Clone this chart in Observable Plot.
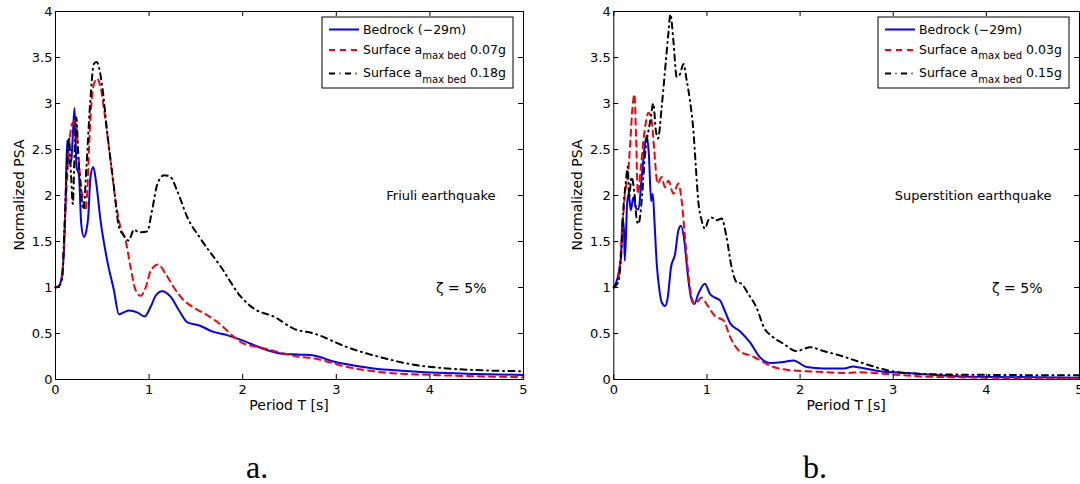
<!DOCTYPE html>
<html><head><meta charset="utf-8">
<script src="https://cdn.jsdelivr.net/npm/d3@7"></script>
<script src="https://cdn.jsdelivr.net/npm/@observablehq/plot@0.6"></script>
<style>
body{margin:0;background:#fff;}
#wrap{position:relative;width:1080px;height:484px;overflow:hidden;background:#fff;}
#wrap svg{position:absolute;top:0;overflow:visible;}
</style></head><body>
<div id="wrap"></div>
<script>
// ---------- axis ticks ----------
const xTicks = [0, 1, 2, 3, 4, 5];
const yTicks = [0, 0.5, 1, 1.5, 2, 2.5, 3, 3.5, 4];

// ---------- (a) Friuli earthquake ----------
const friuliBedT = [0, 0.04, 0.071, 0.089, 0.107, 0.125, 0.146, 0.168, 0.185, 0.203, 0.225, 0.25, 0.275, 0.303, 0.33, 0.349, 0.374, 0.403, 0.432, 0.481, 0.553, 0.624, 0.677, 0.73, 0.784, 0.873, 0.952, 1.016, 1.07, 1.14, 1.23, 1.32, 1.41, 1.53, 1.68, 1.84, 2.01, 2.23, 2.42, 2.62, 2.76, 2.99, 3.2, 3.4, 3.7, 4.01, 4.5, 5.0];
const friuliBed  = [1.0, 1.02, 1.15, 1.37, 1.91, 2.60, 2.35, 2.38, 2.65, 2.95, 2.31, 2.23, 1.69, 1.55, 1.62, 1.76, 2.2, 2.31, 2.16, 1.73, 1.29, 0.97, 0.71, 0.73, 0.75, 0.73, 0.685, 0.79, 0.91, 0.96, 0.90, 0.75, 0.62, 0.59, 0.52, 0.48, 0.42, 0.33, 0.28, 0.27, 0.26, 0.19, 0.15, 0.12, 0.095, 0.075, 0.06, 0.05];

const friuliLowT = [0, 0.04, 0.071, 0.089, 0.107, 0.125, 0.143, 0.178, 0.214, 0.239, 0.267, 0.3, 0.32, 0.34, 0.36, 0.381, 0.41, 0.446, 0.481, 0.535, 0.588, 0.642, 0.695, 0.749, 0.802, 0.856, 0.909, 0.963, 1.016, 1.095, 1.176, 1.265, 1.372, 1.48, 1.62, 1.76, 1.91, 2.01, 2.19, 2.41, 2.59, 2.76, 3.12, 3.48, 4.01, 4.5, 5.0];
const friuliLow  = [1.0, 1.02, 1.12, 1.45, 1.85, 2.2, 2.5, 2.78, 2.81, 2.52, 2.16, 1.92, 1.84, 2.05, 2.55, 2.96, 3.21, 3.27, 3.18, 2.81, 2.38, 1.94, 1.65, 1.51, 1.22, 0.97, 0.91, 1.0, 1.18, 1.25, 1.15, 1.0, 0.86, 0.78, 0.70, 0.60, 0.46, 0.39, 0.35, 0.29, 0.25, 0.23, 0.135, 0.08, 0.05, 0.035, 0.025];

const friuliHighT = [0, 0.04, 0.071, 0.096, 0.118, 0.143, 0.165, 0.185, 0.205, 0.222, 0.245, 0.267, 0.3, 0.33, 0.37, 0.41, 0.44, 0.5, 0.55, 0.62, 0.68, 0.72, 0.78, 0.84, 0.89, 0.98, 1.03, 1.09, 1.16, 1.23, 1.3, 1.41, 1.55, 1.77, 1.98, 2.12, 2.34, 2.55, 2.76, 3.12, 3.48, 3.83, 4.19, 4.55, 5.0];
const friuliHigh  = [1.0, 1.02, 1.1, 1.65, 2.23, 2.63, 2.25, 1.91, 2.5, 2.85, 2.4, 2.1, 1.85, 2.3, 3.0, 3.43, 3.45, 3.18, 2.71, 2.13, 1.65, 1.58, 1.51, 1.63, 1.6, 1.61, 1.83, 2.13, 2.22, 2.2, 2.05, 1.76, 1.53, 1.22, 0.90, 0.77, 0.68, 0.55, 0.50, 0.35, 0.24, 0.16, 0.12, 0.10, 0.09];

// ---------- (b) Superstition earthquake ----------
const supBedT = [0, 0.05, 0.079, 0.093, 0.11, 0.118, 0.143, 0.16, 0.182, 0.21, 0.245, 0.265, 0.3, 0.33, 0.354, 0.378, 0.4, 0.418, 0.436, 0.461, 0.486, 0.514, 0.55, 0.579, 0.614, 0.657, 0.693, 0.722, 0.757, 0.793, 0.829, 0.864, 0.907, 0.979, 1.032, 1.086, 1.14, 1.19, 1.25, 1.36, 1.465, 1.57, 1.68, 1.82, 1.93, 2.07, 2.25, 2.47, 2.57, 2.64, 2.86, 3.14, 3.86, 5.0];
const supBed  = [1.0, 1.15, 1.36, 1.76, 1.6, 1.29, 1.91, 2.02, 1.84, 1.98, 1.85, 1.85, 2.2, 2.52, 2.65, 2.42, 1.94, 2.02, 1.73, 1.26, 1.0, 0.84, 0.80, 0.89, 1.22, 1.36, 1.62, 1.67, 1.51, 1.15, 0.89, 0.82, 0.93, 1.04, 0.93, 0.89, 0.86, 0.75, 0.61, 0.52, 0.40, 0.24, 0.18, 0.19, 0.207, 0.135, 0.12, 0.12, 0.14, 0.13, 0.09, 0.07, 0.03, 0.02];

const supLowT = [0, 0.04, 0.068, 0.093, 0.122, 0.15, 0.175, 0.2, 0.222, 0.24, 0.258, 0.29, 0.318, 0.345, 0.372, 0.407, 0.432, 0.47, 0.514, 0.55, 0.586, 0.64, 0.693, 0.729, 0.764, 0.8, 0.836, 0.872, 0.943, 0.997, 1.086, 1.18, 1.25, 1.36, 1.47, 1.57, 1.68, 1.86, 2.07, 2.29, 2.5, 2.64, 2.86, 3.39, 5.0];
const supLow  = [1.0, 1.05, 1.29, 1.65, 2.05, 2.2, 2.55, 2.95, 3.10, 2.6, 2.02, 2.3, 2.6, 2.8, 2.9, 2.81, 2.52, 2.13, 2.2, 2.09, 2.16, 2.02, 2.13, 1.94, 1.55, 1.15, 0.89, 0.82, 0.89, 0.82, 0.69, 0.64, 0.46, 0.30, 0.26, 0.21, 0.15, 0.105, 0.09, 0.08, 0.07, 0.08, 0.065, 0.03, 0.01];

const supHighT = [0, 0.05, 0.079, 0.104, 0.125, 0.15, 0.165, 0.19, 0.222, 0.247, 0.265, 0.3, 0.336, 0.39, 0.425, 0.45, 0.475, 0.514, 0.55, 0.586, 0.608, 0.64, 0.675, 0.711, 0.747, 0.783, 0.818, 0.854, 0.879, 0.907, 0.943, 0.979, 1.014, 1.05, 1.104, 1.157, 1.21, 1.265, 1.318, 1.372, 1.444, 1.533, 1.61, 1.71, 1.82, 1.96, 2.11, 2.25, 2.43, 2.64, 2.86, 3.14, 3.57, 5.0];
const supHigh  = [1.0, 1.07, 1.36, 1.87, 2.1, 2.31, 1.98, 2.2, 2.02, 1.73, 1.69, 1.95, 2.45, 2.8, 3.0, 2.72, 2.62, 2.96, 3.36, 3.76, 3.97, 3.68, 3.29, 3.32, 3.43, 3.25, 3.03, 2.71, 2.34, 1.94, 1.73, 1.64, 1.73, 1.76, 1.73, 1.75, 1.55, 1.22, 1.06, 1.04, 0.93, 0.78, 0.57, 0.46, 0.39, 0.31, 0.35, 0.31, 0.26, 0.19, 0.12, 0.07, 0.055, 0.045];

// ---------- labels ----------
const seriesNames = ["Bedrock (\u221229m)", "Surface a", "Surface a"];
const seriesSub = ["", "max bed", "max bed"];
const friuliTails = ["", "0.07g", "0.18g"];
const supTails = ["", "0.03g", "0.15g"];
const seriesColors = ["#0000ff", "#ff0000", "#000000"];
const seriesDash = [null, "6,5", "6,4.5,1,4.5"];

const FONT = "DejaVu Sans, Liberation Sans, sans-serif";

function rows(T, v) { return T.map((t, i) => ({T: t, v: v[i]})); }

function makePanel({left, width, marginLeft, marginRight, data, quake, tails, caption, captionX}) {
  const height = 484, marginTop = 11, marginBottom = 105;
  const fw = width - marginLeft - marginRight, fh = height - marginTop - marginBottom;
  const tk = 5;
  const svg = Plot.plot({
    width, height, marginLeft, marginRight, marginTop, marginBottom,
    style: {fontFamily: FONT, fontSize: "13px", color: "black", background: "transparent", overflow: "visible"},
    x: {domain: [0, 5]},
    y: {domain: [0, 4]},
    marks: [
      ...data.map((d, i) => Plot.line(rows(d[0], d[1]), {
        x: "T", y: "v", stroke: seriesColors[i], strokeWidth: 2,
        strokeDasharray: seriesDash[i], curve: "monotone-x", strokeLinejoin: "round"
      })),
      Plot.frame({stroke: "black", strokeWidth: 1}),
      Plot.tickX(xTicks, {x: d => d, insetTop: fh - tk, stroke: "black"}),
      Plot.tickX(xTicks, {x: d => d, insetBottom: fh - tk, stroke: "black"}),
      Plot.tickY(yTicks, {y: d => d, insetRight: fw - tk, stroke: "black"}),
      Plot.tickY(yTicks, {y: d => d, insetLeft: fw - tk, stroke: "black"}),
      Plot.axisX(xTicks, {tickSize: 0, tickPadding: 5, tickFormat: d => String(d), label: null, fontSize: 13}),
      Plot.axisY(yTicks, {tickSize: 0, tickPadding: 3, tickFormat: d => String(d), label: null, fontSize: 13}),
      Plot.text([quake], {text: d => d, frameAnchor: "right", dx: -28, textAnchor: "end", fontSize: 13}),
      Plot.text(["\u03b6 = 5%"], {text: d => d, frameAnchor: "right", dx: -37, dy: 93, textAnchor: "end", fontSize: 14})
    ]
  });
  svg.style.left = left + "px";
  const s = d3.select(svg);
  // axis titles
  s.append("text").attr("x", marginLeft + fw / 2).attr("y", 410)
    .attr("text-anchor", "middle").attr("font-size", 14).attr("font-family", FONT).attr("fill", "black")
    .text("Period T [s]");
  s.append("text").attr("transform", `translate(${marginLeft - 31},${marginTop + fh / 2}) rotate(-90)`)
    .attr("text-anchor", "middle").attr("font-size", 14).attr("font-family", FONT).attr("fill", "black")
    .text("Normalized PSA");
  // legend
  const bx = marginLeft + fw - 201, by = 17, bw = 191, bh = 71;
  const g = s.append("g").attr("font-family", FONT).attr("fill", "black").attr("text-anchor", "start");
  g.append("rect").attr("x", bx).attr("y", by).attr("width", bw).attr("height", bh)
    .attr("fill", "white").attr("stroke", "black").attr("stroke-width", 1);
  const lineY = [29.5, 50, 73.5], baseY = [34, 53.5, 77];
  seriesNames.forEach((name, i) => {
    const ln = g.append("line").attr("x1", bx + 7).attr("x2", bx + 37).attr("y1", lineY[i]).attr("y2", lineY[i])
      .attr("stroke", seriesColors[i]).attr("stroke-width", 2);
    if (seriesDash[i]) ln.attr("stroke-dasharray", seriesDash[i]);
    const t = g.append("text").attr("x", bx + 41).attr("y", baseY[i]).attr("font-size", 12.5)
      .attr("text-anchor", "start");
    t.append("tspan").text(name);
    if (seriesSub[i]) {
      t.append("tspan").attr("dy", 5.5).attr("font-size", 10).text(seriesSub[i]);
      t.append("tspan").attr("dy", -5.5).attr("dx", 4).text(tails[i]);
    }
  });
  // caption
  s.append("text").attr("x", captionX).attr("y", 478).attr("font-family", "Liberation Serif, serif")
    .attr("text-anchor", "start").attr("font-size", 32).attr("fill", "black").text(caption);
  document.getElementById("wrap").appendChild(svg);
}

makePanel({
  left: 0, width: 560, marginLeft: 55, marginRight: 37,
  data: [[friuliBedT, friuliBed], [friuliLowT, friuliLow], [friuliHighT, friuliHigh]],
  quake: "Friuli earthquake", tails: friuliTails, caption: "a.", captionX: 246
});
makePanel({
  left: 560, width: 520, marginLeft: 53.3, marginRight: 1,
  data: [[supBedT, supBed], [supLowT, supLow], [supHighT, supHigh]],
  quake: "Superstition earthquake", tails: supTails, caption: "b.", captionX: 243
});
</script>
</body></html>
